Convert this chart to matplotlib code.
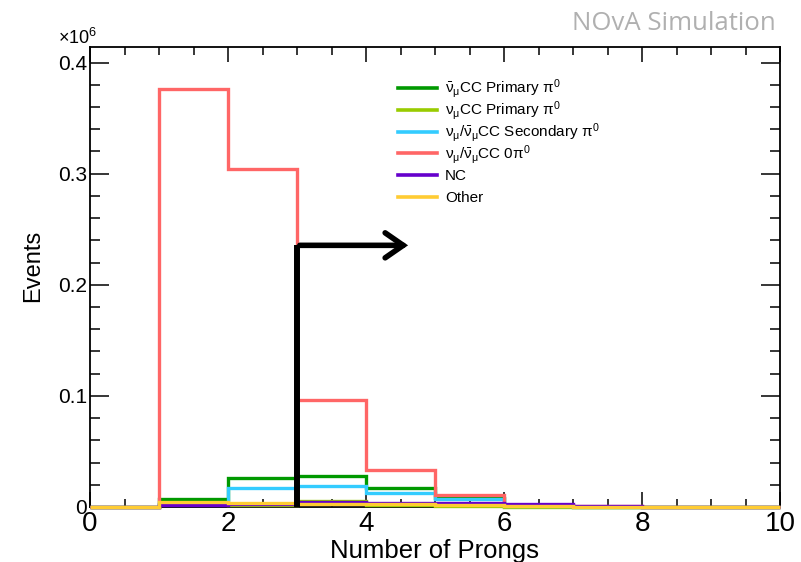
import numpy as np
import matplotlib
matplotlib.use("Agg")
import matplotlib.pyplot as plt
from matplotlib.patches import FancyArrowPatch
from matplotlib.ticker import MultipleLocator

plt.rcParams['font.family'] = ['Liberation Sans', 'DejaVu Sans']
plt.rcParams['mathtext.fontset'] = 'custom'
plt.rcParams['mathtext.rm'] = 'Liberation Sans'
plt.rcParams['mathtext.it'] = 'Liberation Sans'
plt.rcParams['mathtext.bf'] = 'Liberation Sans:bold'

# Histogram bin edges (number of prongs)
edges = np.arange(0, 11)

# Event counts per bin, in units of 1e6
numubar_cc_pi0 = [0, 0.0074, 0.0263, 0.0278, 0.0173, 0.0083, 0.0008, 0.0002, 0, 0]
numu_cc_pi0    = [0, 0.0025, 0.0020, 0.0050, 0.0020, 0.0010, 0.0003, 0.0001, 0, 0]
cc_secondary   = [0, 0.0030, 0.0173, 0.0185, 0.0125, 0.0068, 0.0007, 0.0002, 0, 0]
cc_0pi0        = [0, 0.3765, 0.3043, 0.0960, 0.0330, 0.0104, 0.0020, 0.0006, 0.0002, 0]
nc             = [0, 0.0014, 0.0025, 0.0043, 0.0040, 0.0035, 0.0023, 0.0012, 0.0004, 0.0001]
other          = [0, 0.0045, 0.0040, 0.0030, 0.0025, 0.0015, 0.0005, 0.0002, 0, 0]

series = [
    (numubar_cc_pi0, '#009900', r'$\bar{\nu}_{\mu}$CC Primary $\pi^{0}$'),
    (numu_cc_pi0,    '#99cc00', r'$\nu_{\mu}$CC Primary $\pi^{0}$'),
    (cc_secondary,   '#33ccff', r'$\nu_{\mu}/\bar{\nu}_{\mu}$CC Secondary $\pi^{0}$'),
    (cc_0pi0,        '#ff6666', r'$\nu_{\mu}/\bar{\nu}_{\mu}$CC 0$\pi^{0}$'),
    (nc,             '#6600cc', 'NC'),
    (other,          '#ffcc33', 'Other'),
]

# cut position and arrow
cut_x = 3
cut_height = 0.2355
arrow_end = 4.65

fig = plt.figure(figsize=(8.01, 5.62), dpi=100)
ax = fig.add_axes([90 / 801, (562 - 507) / 562, 690 / 801, 460 / 562])

for vals, col, lab in series:
    ax.stairs(vals, edges, color=col, lw=2.4, zorder=3, clip_on=False)

ax.plot([cut_x, cut_x], [0, cut_height], color='black', lw=4.3,
        solid_capstyle='butt', zorder=4)
arr = FancyArrowPatch((cut_x, cut_height), (arrow_end, cut_height),
                      arrowstyle='->,head_length=0.65,head_width=0.45',
                      mutation_scale=20, lw=4, color='black',
                      capstyle='round', joinstyle='miter', zorder=4)
ax.add_patch(arr)

ax.set_xlim(0, 10)
ax.set_ylim(0, 0.414)
ax.xaxis.set_major_locator(MultipleLocator(2))
ax.xaxis.set_minor_locator(MultipleLocator(0.5))
ax.yaxis.set_minor_locator(MultipleLocator(0.02))
ax.set_yticks([0, 0.1, 0.2, 0.3, 0.4])
ax.set_yticklabels(['0', '0.1', '0.2', '0.3', '0.4'])
ax.tick_params(which='both', direction='in', top=True, right=True, width=1.1)
ax.tick_params(axis='y', which='major', length=14)
ax.tick_params(axis='y', which='minor', length=7)
ax.tick_params(axis='x', which='major', length=11)
ax.tick_params(axis='x', which='minor', length=6)
ax.tick_params(axis='x', labelsize=20, pad=3)
ax.tick_params(axis='y', labelsize=15, pad=2)
for sp in ax.spines.values():
    sp.set_linewidth(1.3)

ax.set_xlabel('Number of Prongs', fontsize=18.5)
ax.xaxis.set_label_coords(0.5, -0.07)
ax.set_ylabel('Events', fontsize=17)
ax.yaxis.set_label_coords(-0.066, 0.524)

# legend drawn by hand so rows keep an even pitch
leg_x0, leg_x1, leg_tx = 398, 437, 445
leg_y0, leg_dy = 88, 21.8
for i, (vals, col, lab) in enumerate(series):
    yp = 1 - (leg_y0 + i * leg_dy) / 562
    fig.add_artist(plt.Line2D([leg_x0 / 801, leg_x1 / 801], [yp, yp],
                              color=col, lw=2.6))
    fig.text(leg_tx / 801, yp - 5 / 562, lab, fontsize=11, va='baseline')

fig.text(58 / 801, 1 - 38 / 562, r'$\times$10$^{6}$', fontsize=13, va='center')
fig.text(776 / 801, 1 - 24 / 562, 'NOvA Simulation', color='#b0b0b0',
         ha='right', va='center', fontsize=18.5,
         family=['Open Sans', 'DejaVu Sans'])

fig.savefig('out.png', dpi=100)
